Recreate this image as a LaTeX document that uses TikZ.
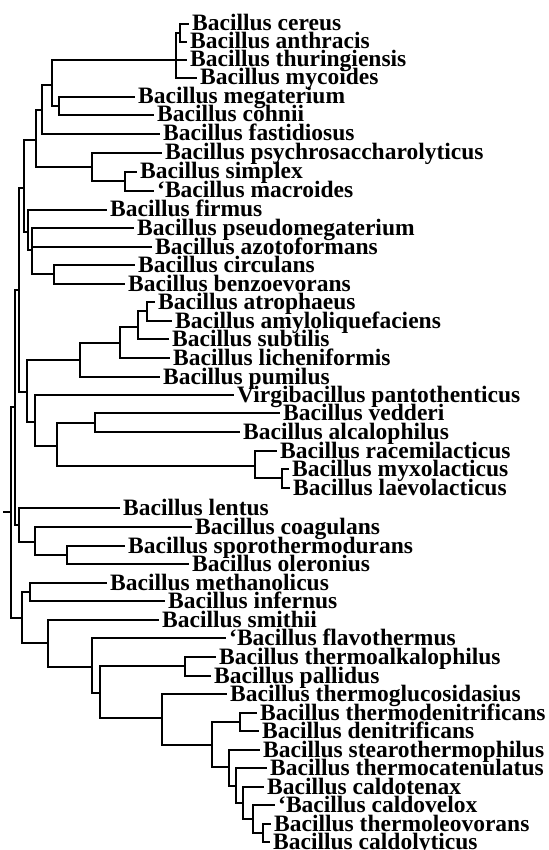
\documentclass[tikz,border=0pt]{standalone}
\usepackage{fontspec}
\setmainfont{Liberation Serif}
\begin{document}
\begin{tikzpicture}[x=1pt,y=-1pt,
  leaf/.style={anchor=west, inner xsep=3pt, inner ysep=0pt, font=\fontsize{23.5}{24}\selectfont\bfseries, text height=14pt, text depth=0pt},
  br/.style={line width=1.3pt, line cap=square}]
\useasboundingbox[fill=white] (0,0) rectangle (548,850);
% leaves
\node[leaf] (l1) at (189,24) {Bacillus cereus};
\node[leaf] (l2) at (187,42) {Bacillus anthracis};
\node[leaf] (l3) at (187,60) {Bacillus thuringiensis};
\node[leaf] (l4) at (197,78) {Bacillus mycoides};
\node[leaf] (l5) at (135,97) {Bacillus megaterium};
\node[leaf] (l6) at (154,115) {Bacillus cohnii};
\node[leaf] (l7) at (160,134) {Bacillus fastidiosus};
\node[leaf] (l8) at (162,153) {Bacillus psychrosaccharolyticus};
\node[leaf] (l9) at (137,172) {Bacillus simplex};
\node[leaf] (l10) at (154,191) {‘Bacillus macroides};
\node[leaf] (l11) at (107,210) {Bacillus firmus};
\node[leaf] (l12) at (134,228) {Bacillus pseudomegaterium};
\node[leaf] (l13) at (152,247) {Bacillus azotoformans};
\node[leaf] (l14) at (135,265) {Bacillus circulans};
\node[leaf] (l15) at (125,284) {Bacillus benzoevorans};
\node[leaf] (l16) at (155,302) {Bacillus atrophaeus};
\node[leaf] (l17) at (172,321) {Bacillus amyloliquefaciens};
\node[leaf] (l18) at (169,339) {Bacillus subtilis};
\node[leaf] (l19) at (170,358) {Bacillus licheniformis};
\node[leaf] (l20) at (160,377) {Bacillus pumilus};
\node[leaf] (l21) at (234,395) {Virgibacillus pantothenticus};
\node[leaf] (l22) at (280,413) {Bacillus vedderi};
\node[leaf] (l23) at (240,432) {Bacillus alcalophilus};
\node[leaf] (l24) at (277,451) {Bacillus racemilacticus};
\node[leaf] (l25) at (289,469) {Bacillus myxolacticus};
\node[leaf] (l26) at (290,488) {Bacillus laevolacticus};
\node[leaf] (l27) at (120,508) {Bacillus lentus};
\node[leaf] (l28) at (192,527) {Bacillus coagulans};
\node[leaf] (l29) at (125,546) {Bacillus sporothermodurans};
\node[leaf] (l30) at (189,564) {Bacillus oleronius};
\node[leaf] (l31) at (107,583) {Bacillus methanolicus};
\node[leaf] (l32) at (165,601) {Bacillus infernus};
\node[leaf] (l33) at (159,620) {Bacillus smithii};
\node[leaf] (l34) at (226,638) {‘Bacillus flavothermus};
\node[leaf] (l35) at (216,657) {Bacillus thermoalkalophilus};
\node[leaf] (l36) at (211,676) {Bacillus pallidus};
\node[leaf] (l37) at (227,694) {Bacillus thermoglucosidasius};
\node[leaf] (l38) at (257,713) {Bacillus thermodenitrificans};
\node[leaf] (l39) at (259,731) {Bacillus denitrificans};
\node[leaf] (l40) at (260,750) {Bacillus stearothermophilus};
\node[leaf] (l41) at (267,768) {Bacillus thermocatenulatus};
\node[leaf] (l42) at (264,787) {Bacillus caldotenax};
\node[leaf] (l43) at (275,805) {‘Bacillus caldovelox};
\node[leaf] (l44) at (271,824) {Bacillus thermoleovorans};
\node[leaf] (l45) at (270,842) {Bacillus caldolyticus};
% internal nodes
\coordinate (cA) at (180,33);
\coordinate (cB) at (176,60);
\coordinate (nMC) at (59,106);
\coordinate (nA) at (52,85);
\coordinate (nB) at (42,110);
\coordinate (nSM) at (125,181);
\coordinate (nC) at (92,167);
\coordinate (nD) at (36,140);
\coordinate (nCB) at (54,274);
\coordinate (nG) at (32,250);
\coordinate (nH) at (28,232);
\coordinate (nE) at (24,188);
\coordinate (nAA) at (147,311);
\coordinate (nAS) at (138,327);
\coordinate (nASL) at (120,343);
\coordinate (nSub) at (80,360);
\coordinate (nML) at (282,478);
\coordinate (nRL) at (255,466);
\coordinate (nVA) at (95,423);
\coordinate (nVAL) at (57,446);
\coordinate (nV) at (35,422);
\coordinate (nI) at (27,392);
\coordinate (nF) at (19,290);
\coordinate (nSO) at (67,555);
\coordinate (nCo) at (35,542);
\coordinate (nK) at (19,525);
\coordinate (nJ) at (15,407);
\coordinate (nMI) at (30,592);
\coordinate (N1) at (263,833);
\coordinate (N2) at (253,819);
\coordinate (N3) at (243,803);
\coordinate (N4) at (236,786);
\coordinate (N5) at (229,767);
\coordinate (nTD) at (240,722);
\coordinate (N6) at (212,745);
\coordinate (N7) at (162,718);
\coordinate (nTP) at (185,666);
\coordinate (N8) at (100,693);
\coordinate (N9) at (92,667);
\coordinate (N10) at (48,643);
\coordinate (nL) at (22,618);
\coordinate (nR) at (11,512);
\coordinate (r0) at (3,512);
% branches
\begin{scope}[br]
\draw (cA) |- (l1); \draw (cA) |- (l2);
\draw (cB) |- (cA); \draw (cB) |- (l3); \draw (cB) |- (l4);
\draw (nMC) |- (l5); \draw (nMC) |- (l6);
\draw (nA) |- (cB); \draw (nA) |- (nMC);
\draw (nB) |- (nA); \draw (nB) |- (l7);
\draw (nSM) |- (l9); \draw (nSM) |- (l10);
\draw (nC) |- (l8); \draw (nC) |- (nSM);
\draw (nD) |- (nB); \draw (nD) |- (nC);
\draw (nCB) |- (l14); \draw (nCB) |- (l15);
\draw (nG) |- (l12); \draw (nG) |- (l13); \draw (nG) |- (nCB);
\draw (nH) |- (l11); \draw (nH) |- (nG);
\draw (nE) |- (nD); \draw (nE) |- (nH);
\draw (nAA) |- (l16); \draw (nAA) |- (l17);
\draw (nAS) |- (nAA); \draw (nAS) |- (l18);
\draw (nASL) |- (nAS); \draw (nASL) |- (l19);
\draw (nSub) |- (nASL); \draw (nSub) |- (l20);
\draw (nML) |- (l25); \draw (nML) |- (l26);
\draw (nRL) |- (l24); \draw (nRL) |- (nML);
\draw (nVA) |- (l22); \draw (nVA) |- (l23);
\draw (nVAL) |- (nVA); \draw (nVAL) |- (nRL);
\draw (nV) |- (l21); \draw (nV) |- (nVAL);
\draw (nI) |- (nSub); \draw (nI) |- (nV);
\draw (nF) |- (nE); \draw (nF) |- (nI);
\draw (nSO) |- (l29); \draw (nSO) |- (l30);
\draw (nCo) |- (l28); \draw (nCo) |- (nSO);
\draw (nK) |- (l27); \draw (nK) |- (nCo);
\draw (nJ) |- (nF); \draw (nJ) |- (nK);
\draw (nMI) |- (l31); \draw (nMI) |- (l32);
\draw (N1) |- (l44); \draw (N1) |- (l45);
\draw (N2) |- (l43); \draw (N2) |- (N1);
\draw (N3) |- (l42); \draw (N3) |- (N2);
\draw (N4) |- (l41); \draw (N4) |- (N3);
\draw (N5) |- (l40); \draw (N5) |- (N4);
\draw (nTD) |- (l38); \draw (nTD) |- (l39);
\draw (N6) |- (nTD); \draw (N6) |- (N5);
\draw (N7) |- (l37); \draw (N7) |- (N6);
\draw (nTP) |- (l35); \draw (nTP) |- (l36);
\draw (N8) |- (nTP); \draw (N8) |- (N7);
\draw (N9) |- (l34); \draw (N9) |- (N8);
\draw (N10) |- (l33); \draw (N10) |- (N9);
\draw (nL) |- (nMI); \draw (nL) |- (N10);
\draw (nR) |- (nJ); \draw (nR) |- (nL);
\draw (r0) -- (nR);
\end{scope}
\end{tikzpicture}
\end{document}
